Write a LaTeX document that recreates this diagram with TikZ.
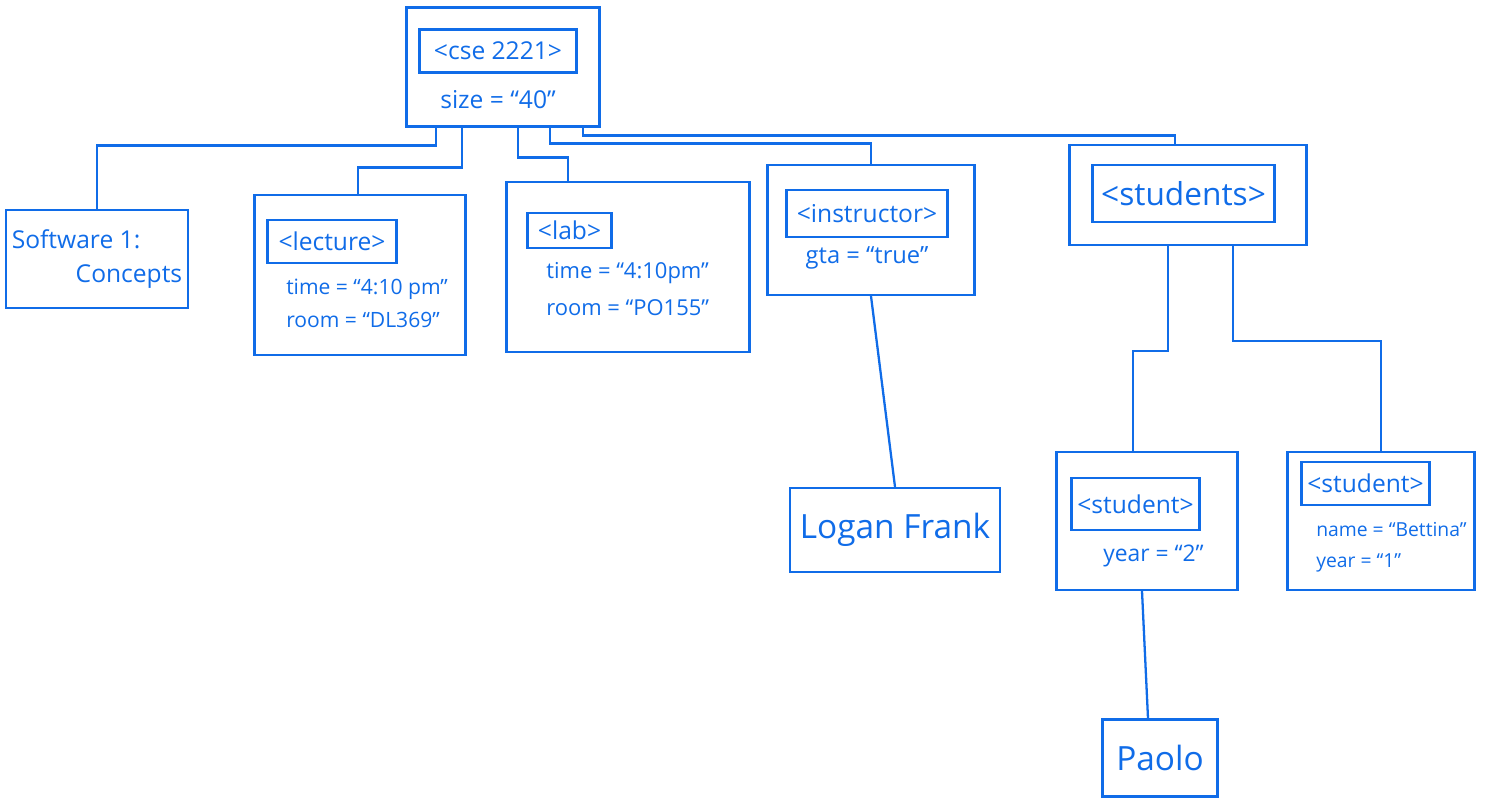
\documentclass[tikz,border=0pt]{standalone}
\usepackage{fontspec}
\setmainfont{Open Sans}
\usetikzlibrary{positioning,calc}
\definecolor{inkblue}{RGB}{16,108,232}

\begin{document}
\begin{tikzpicture}[x=0.02cm,y=-0.02cm,inkblue,line width=1.3pt,
    box/.style={draw,rectangle},
    tagbox/.style={draw,inner sep=1pt,font=\fontsize{14}{16}\selectfont},
    attr/.style={inner sep=1pt,align=left,font=\fontsize{12}{19}\selectfont},
    leaf/.style={draw,font=\fontsize{19}{23}\selectfont}]

    \useasboundingbox (0,0) rectangle (1487,800);

    % root element
    \node[box,minimum width=3.86cm,minimum height=2.38cm] (root) at (503,67) {};
    \node[tagbox,minimum width=3.14cm,minimum height=0.86cm,below right=0.44cm and 0.26cm of root.north west] (roottag) {<cse 2221>};
    \node[attr,below=0.28cm of roottag,font=\fontsize{14}{16}\selectfont] (rootattr) {size = “40”};

    % children of the root
    \node[box,minimum width=3.58cm,minimum height=1.96cm,align=left,font=\fontsize{14}{19}\selectfont] (sw) at (97,259) {Software 1:\\\hspace*{2.6em}Concepts};

    \node[box,minimum width=4.22cm,minimum height=3.2cm] (lecture) at (360,275) {};
    \node[tagbox,minimum width=2.58cm,minimum height=0.86cm,below right=0.5cm and 0.26cm of lecture.north west] (lecturetag) {<lecture>};
    \node[attr,below right=0.24cm and 0.34cm of lecturetag.south west] (lectureattr) {time = “4:10 pm”\\room = “DL369”};

    \node[box,minimum width=4.86cm,minimum height=3.4cm] (lab) at (628,267) {};
    \node[tagbox,minimum width=1.68cm,minimum height=0.7cm,below right=0.62cm and 0.42cm of lab.north west] (labtag) {<lab>};
    \node[attr,below right=0.2cm and 0.34cm of labtag.south west,font=\fontsize{12.5}{21}\selectfont] (labattr) {time = “4:10pm”\\room = “PO155”};

    \node[box,minimum width=4.14cm,minimum height=2.6cm] (instructor) at (871,230) {};
    \node[tagbox,minimum width=3.22cm,minimum height=0.94cm,below right=0.5cm and 0.38cm of instructor.north west] (instructortag) {<instructor>};
    \node[attr,below=0.12cm of instructortag,font=\fontsize{13.5}{16}\selectfont] (instructorattr) {gta = “true”};

    \node[box,minimum width=4.74cm,minimum height=2cm] (students) at (1188,195) {};
    \node[tagbox,minimum width=3.64cm,minimum height=1.14cm,font=\fontsize{18}{20}\selectfont,below right=0.4cm and 0.46cm of students.north west] (studentstag) {<students>};

    % lower levels
    \node[leaf,minimum width=4.2cm,minimum height=1.68cm] (logan) at (895,530) {Logan Frank};

    \node[box,minimum width=3.62cm,minimum height=2.76cm] (firststudent) at (1147,521) {};
    \node[tagbox,minimum width=2.56cm,minimum height=1.04cm,below right=0.52cm and 0.3cm of firststudent.north west] (firsttag) {<student>};
    \node[attr,below right=0.22cm and 0.6cm of firsttag.south west,font=\fontsize{13}{16}\selectfont] (firstattr) {year = “2”};

    \node[box,minimum width=3.74cm,minimum height=2.76cm] (secondstudent) at (1381,521) {};
    \node[tagbox,minimum width=2.56cm,minimum height=0.86cm,below right=0.2cm and 0.28cm of secondstudent.north west] (secondtag) {<student>};
    \node[attr,below right=0.26cm and 0.26cm of secondtag.south west,font=\fontsize{11}{18}\selectfont] (secondattr) {name = “Bettina”\\year = “1”};

    \node[leaf,minimum width=2.3cm,minimum height=1.54cm] (paolo) at (1160,758) {Paolo};

    % connectors
    \draw ($(root.south)+(-67,0)$) -- ++(0,18) -| (sw.north);
    \draw ($(root.south)+(-41,0)$) -- ++(0,40) -| ($(lecture.north)+(-2,0)$);
    \draw ($(root.south)+(15,0)$) -- ++(0,30) -| ($(lab.north)+(-60,0)$);
    \draw ($(root.south)+(47,0)$) -- ++(0,16) -| (instructor.north);
    \draw ($(root.south)+(80,0)$) -- ++(0,8) -| ($(students.north)+(-13,0)$);

    \draw (instructor.south) -- (logan.north);
    \draw ($(students.south)+(-20,0)$) -- ++(0,105) -| ($(firststudent.north)+(-14,0)$);
    \draw ($(students.south)+(45,0)$) -- ++(0,95) -| (secondstudent.north);
    \draw ($(firststudent.south)+(-5,0)$) -- ($(paolo.north)+(-12,0)$);

\end{tikzpicture}
\end{document}
